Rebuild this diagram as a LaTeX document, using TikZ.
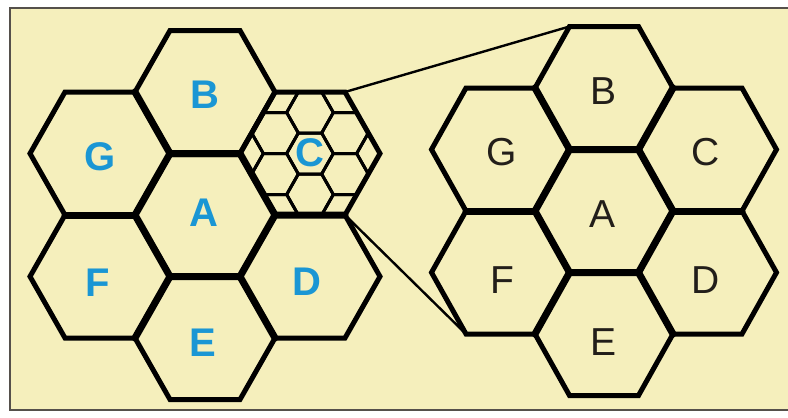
\documentclass[tikz,border=0pt]{standalone}
\usepackage{fontspec}
\setmainfont{Liberation Sans}
\definecolor{paper}{RGB}{245,239,188}
\definecolor{framegray}{RGB}{85,80,75}
\definecolor{cellblue}{RGB}{26,150,212}
\definecolor{ink}{RGB}{34,30,26}
\tikzset{
  hexline/.style={draw=black, line width=5pt, line join=miter},
  innerline/.style={draw=black, line width=7pt, line cap=round},
  gridline/.style={draw=black, line width=3pt},
  linkline/.style={draw=black, line width=2.4pt},
  bluelbl/.style={text=cellblue, font=\bfseries\fontsize{40}{40}\selectfont, inner sep=0pt},
  inklbl/.style={text=ink, font=\fontsize{39}{39}\selectfont, inner sep=0pt}
}
\begin{document}
\begin{tikzpicture}[x=1pt,y=-1pt]
\useasboundingbox (0,0) rectangle (788,418);
\fill[white] (0,0) rectangle (788,418);
\filldraw[fill=paper, draw=framegray, line width=2.5pt] (10,8) rectangle (798,410);

% ---- left cluster: seven cells, R = 70 ----
% fine cell grid inside cell C
\begin{scope}
  \clip (380,153.5) -- (345,92) -- (275,92) -- (240,153.5) -- (275,215) -- (345,215) -- cycle;
  \foreach \k in {-3,...,3} {
    \foreach \m in {-3,...,3} {
      \pgfmathsetmacro\sx{310+35*\k}
      \pgfmathsetmacro\sy{153.5+41*\m+20.5*mod(abs(\k),2)}
      \draw[gridline] (\sx+23.33,\sy) -- (\sx+11.67,\sy-20.5) -- (\sx-11.67,\sy-20.5)
        -- (\sx-23.33,\sy) -- (\sx-11.67,\sy+20.5) -- (\sx+11.67,\sy+20.5) -- cycle;
    }
  }
\end{scope}
\foreach \cx/\cy in {205/215, 205/92, 205/338, 100/153.5, 310/153.5, 100/276.5, 310/276.5}
  \draw[hexline] (\cx+70,\cy) -- (\cx+35,\cy-61.5) -- (\cx-35,\cy-61.5)
    -- (\cx-70,\cy) -- (\cx-35,\cy+61.5) -- (\cx+35,\cy+61.5) -- cycle;
% shared edges
\draw[innerline] (275,215) -- (240,153.5) -- (170,153.5);
\draw[innerline] (240,153.5) -- (170,153.5) -- (135,215) -- (170,276.5) -- (240,276.5) -- (275,215) -- (345,215);
\draw[innerline] (135,215) -- (65,215);
\draw[innerline] (170,276.5) -- (135,338);
\draw[innerline] (240,276.5) -- (275,338);
\draw[innerline] (170,153.5) -- (135,92);

% ---- right cluster: seven cells, R = 69 ----
\foreach \cx/\cy in {604/211, 604/88, 604/334, 500.5/149.5, 707.5/149.5, 500.5/272.5, 707.5/272.5}
  \draw[hexline] (\cx+69,\cy) -- (\cx+34.5,\cy-61.5) -- (\cx-34.5,\cy-61.5)
    -- (\cx-69,\cy) -- (\cx-34.5,\cy+61.5) -- (\cx+34.5,\cy+61.5) -- cycle;
\draw[innerline] (673,211) -- (638.5,149.5) -- (569.5,149.5) -- (535,211) -- (569.5,272.5) -- (638.5,272.5) -- cycle;
\draw[innerline] (673,211) -- (742,211);
\draw[innerline] (535,211) -- (466,211);
\draw[innerline] (638.5,149.5) -- (673,88);
\draw[innerline] (569.5,149.5) -- (535,88);
\draw[innerline] (569.5,272.5) -- (535,334);
\draw[innerline] (638.5,272.5) -- (673,334);

% ---- enlargement lines from cell C to the magnified cluster ----
\coordinate (lC-ne) at (345,92);
\coordinate (lC-se) at (345,215);
\coordinate (rB-nw) at (569.5,26.5);
\coordinate (rF-sw) at (466,334);
\draw[linkline] (lC-ne) -- (rB-nw);
\draw[linkline] (lC-se) -- (rF-sw);

% ---- labels ----
\node[bluelbl] (lA) at (204,213) {A};
\node[bluelbl] (lB) at (205,95) {B};
\node[bluelbl] (lC) at (310,153) {C};
\node[bluelbl] (lD) at (307,282) {D};
\node[bluelbl] (lE) at (203,343) {E};
\node[bluelbl] (lF) at (98,283) {F};
\node[bluelbl] (lG) at (100,157) {G};

\node[inklbl] (rA) at (603,214) {A};
\node[inklbl] (rB) at (604,91) {B};
\node[inklbl] (rC) at (706,152) {C};
\node[inklbl] (rD) at (706,280) {D};
\node[inklbl] (rE) at (604,342) {E};
\node[inklbl] (rF) at (502,280) {F};
\node[inklbl] (rG) at (502,152) {G};
\end{tikzpicture}
\end{document}
